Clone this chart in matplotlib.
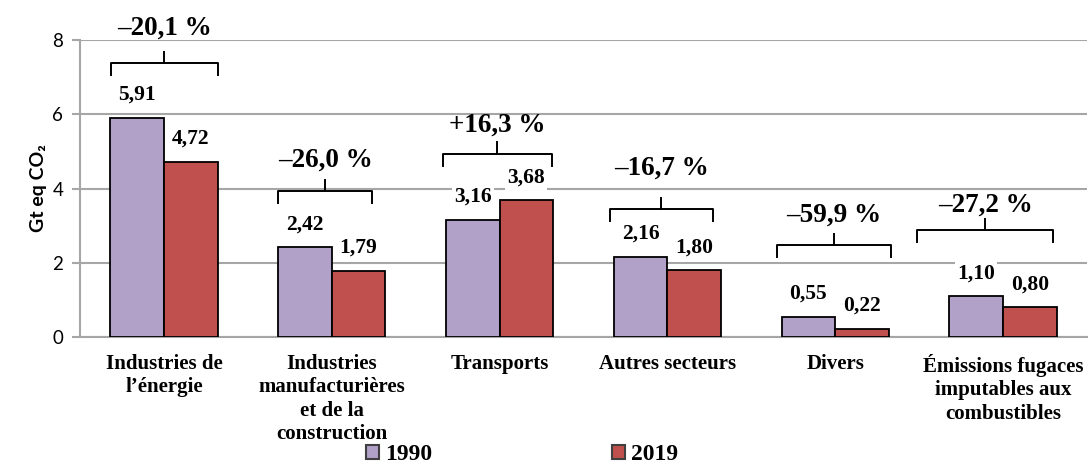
import matplotlib
matplotlib.use("Agg")
import matplotlib.pyplot as plt
from matplotlib.patches import Patch
import numpy as np

# data
categories = ["Industries de\nl\u2019\u00e9nergie",
              "Industries\nmanufacturi\u00e8res\net de la\nconstruction",
              "Transports", "Autres secteurs", "Divers",
              "\u00c9missions fugaces\nimputables aux\ncombustibles"]
v1990 = [5.91, 2.42, 3.16, 2.16, 0.55, 1.10]
v2019 = [4.72, 1.79, 3.68, 1.80, 0.22, 0.80]
changes = ["\u201320,1 %", "\u201326,0 %", "+16,3 %", "\u201316,7 %", "\u201359,9 %", "\u201327,2 %"]
years = ["1990", "2019"]

# bracket layout: (left, right) offsets from group centre, bottom y, label y
br_span = [(-0.315, 0.32), (-0.32, 0.24), (-0.34, 0.31), (-0.345, 0.27), (-0.345, 0.33), (-0.51, 0.30)]
br_bottom = [7.06, 3.61, 4.61, 3.12, 2.15, 2.56]
br_label = [8.32, 4.77, 5.71, 4.55, 3.29, 3.56]

c1990 = "#B1A0C7"
c2019 = "#C0504D"
grid_c = "#a6a6a6"
serif = ["Liberation Serif", "DejaVu Serif"]
sans = ["Lato", "DejaVu Sans"]

fig = plt.figure(figsize=(10.88, 4.66), dpi=100)
ax = fig.add_axes([80/1088, 1-337/466, 1007/1088, 297/466])

x = np.arange(len(categories))
w = 0.32
b1 = ax.bar(x - w/2, v1990, w, color=c1990, edgecolor="black", linewidth=1.3, zorder=3)
b2 = ax.bar(x + w/2, v2019, w, color=c2019, edgecolor="black", linewidth=1.3, zorder=3)

for bars, vals in ((b1, v1990), (b2, v2019)):
    for r, v in zip(bars, vals):
        ax.annotate(f"{v:.2f}".replace(".", ","), (r.get_x() + r.get_width()/2, v),
                    xytext=(0, 23), textcoords="offset pixels", ha="center", va="center",
                    fontsize=15.5, fontweight="bold", family=serif, zorder=4,
                    bbox=dict(boxstyle="square,pad=0.1", fc="white", ec="none"))

# brackets with change labels
leg = 0.33
tick = 0.3
for i in range(len(categories)):
    x0 = i + br_span[i][0]
    x1 = i + br_span[i][1]
    yb = br_bottom[i]
    yt = yb + leg
    xm = (x0 + x1) / 2
    ax.plot([x0, x0, x1, x1], [yb, yt, yt, yb], color="black", lw=1.4, zorder=5, clip_on=False)
    ax.plot([xm, xm], [yt, yt + tick], color="black", lw=1.4, zorder=5, clip_on=False)
    ax.text(xm, br_label[i], changes[i], ha="center", va="center", fontsize=19.5,
            fontweight="bold", family=serif, zorder=6, clip_on=False)

ax.set_xlim(-0.5, len(categories) - 0.5)
ax.set_ylim(0, 8)
ax.set_yticks([0, 2, 4, 6, 8])
ax.yaxis.grid(True, color=grid_c, lw=1.5, zorder=0)
ax.set_axisbelow(True)
for s in ("top", "right"):
    ax.spines[s].set_visible(False)
ax.spines["left"].set_color(grid_c)
ax.spines["left"].set_linewidth(1.5)
ax.spines["bottom"].set_color(grid_c)
ax.spines["bottom"].set_linewidth(1.5)
ax.tick_params(axis="y", length=6, width=1.5, color=grid_c, labelsize=13.5, pad=6)
for t in ax.get_yticklabels():
    t.set_family(sans)
ax.set_xticks(x)
ax.set_xticklabels(categories, fontsize=15, fontweight="bold", family=serif, linespacing=1.23, va="top")
ax.tick_params(axis="x", length=0, pad=12)

ax.set_ylabel("Gt eq CO\u2082", fontsize=14, fontweight="bold", family=sans, labelpad=4)

handles = [Patch(facecolor=c1990, edgecolor="#404040", lw=1.5),
           Patch(facecolor=c2019, edgecolor="#404040", lw=1.5)]
fig.legend(handles, years, loc="center", bbox_to_anchor=(522/1088, 1 - 455/466), ncol=2,
           frameon=False, handlelength=0.55, handleheight=0.55, handletextpad=0.25,
           columnspacing=7.6, prop=dict(family=serif, weight="bold", size=17))

fig.savefig("out.png", dpi=100)
